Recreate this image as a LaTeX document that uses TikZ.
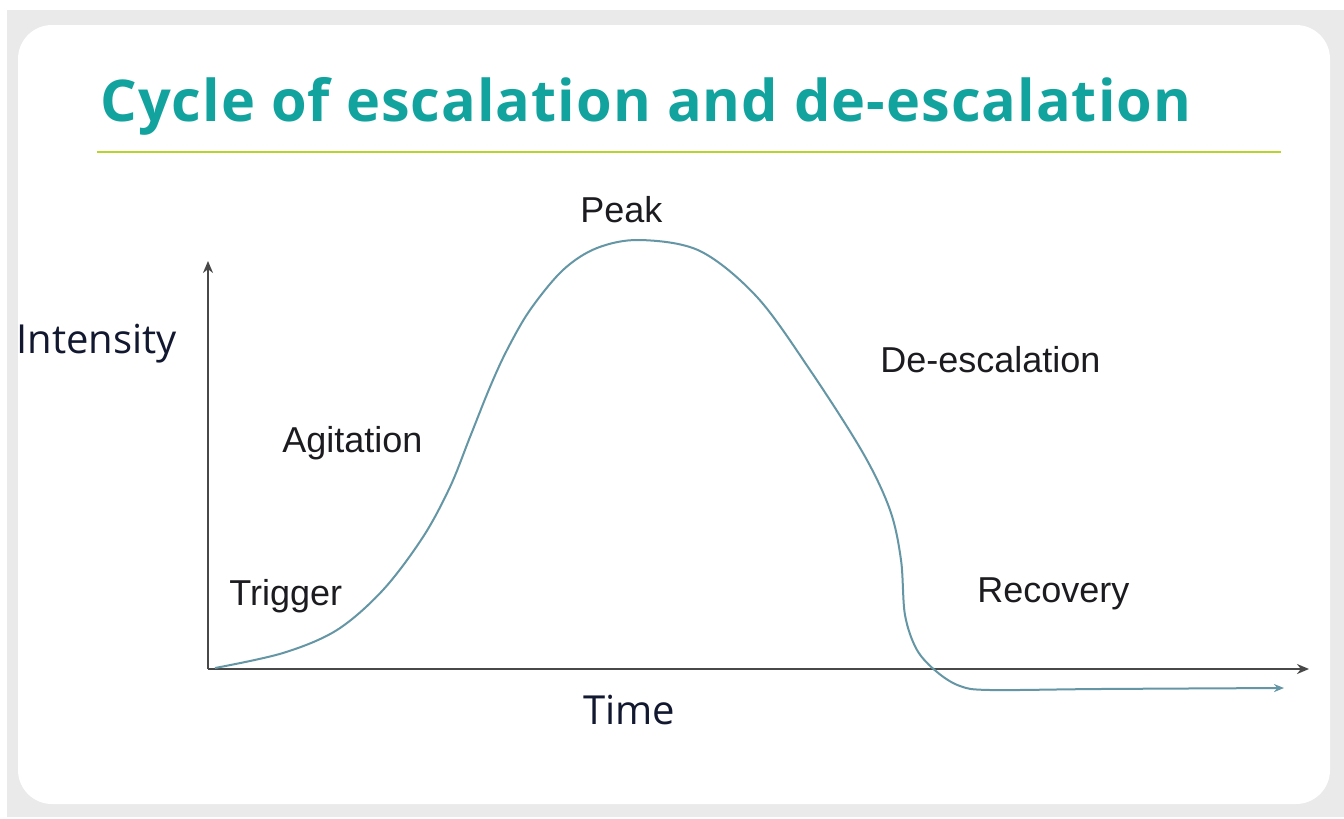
\documentclass[tikz,border=0pt]{standalone}
\usepackage{fontspec}
\setmainfont{Liberation Sans}
\newfontfamily\osfont{Open Sans}
\newfontfamily\ostitle{Open Sans}[LetterSpace=1.8]
\usetikzlibrary{arrows.meta}
\definecolor{framegray}{RGB}{234,234,234}
\definecolor{titleteal}{RGB}{18,163,158}
\definecolor{rulegreen}{RGB}{183,212,45}
\definecolor{labelink}{RGB}{28,28,32}
\definecolor{axisink}{RGB}{72,72,72}
\definecolor{curveink}{RGB}{100,150,165}
\definecolor{navyink}{RGB}{18,24,48}
\tikzset{
  lbl/.style={anchor=base west, inner sep=0pt, text=labelink, font=\fontsize{18}{21}\selectfont},
  axlbl/.style={anchor=base west, inner sep=0pt, text=navyink, font=\osfont\fontsize{20}{24}\selectfont},
  axisline/.style={draw=axisink, line width=1.3pt, -{Stealth[length=6pt,width=5pt]}},
  curveline/.style={draw=curveink, line width=1pt, -{Stealth[length=5pt,width=4pt]}}
}
\begin{document}
\begin{tikzpicture}[x=0.5pt,y=-0.5pt]
\useasboundingbox (0,0) rectangle (1344,819);
\fill[white] (0,0) rectangle (1344,819);
\fill[framegray] (7,10) rectangle (1344,817);
\fill[white, rounded corners=17pt] (18,25) rectangle (1330,804);
% title
\node[anchor=base west, inner sep=0pt, text=titleteal, font=\ostitle\bfseries\fontsize{28.8}{34}\selectfont] (title) at (100,121) {Cycle of escalation and de-escalation};
\coordinate (ruleL) at (97,152);
\coordinate (ruleR) at (1281,152);
\draw[rulegreen, line width=1.2pt] (ruleL) -- (ruleR);
% axes
\coordinate (origin) at (208,669);
\coordinate (ytop) at (208,261);
\coordinate (xend) at (1309,669);
\draw[axisline] (origin) -- (ytop);
\draw[axisline] (origin) -- (xend);
% curve
\draw[curveline] plot[smooth, tension=0.55] coordinates {
 (215,668) (283,653) (337,630) (383,590) (423,537) (450,487) (470,437)
 (490,387) (507,350) (530,310) (563,270) (597,248) (640,240) (700,251)
 (757,297) (810,370) (863,453) (890,510) (901,560)
 (905,615) (917,650) (937,672) (960,686) (990,690) (1100,689) (1284,688)};
% labels
\node[axlbl] (intensity) at (16,353) {Intensity};
\node[axlbl] (time) at (583,724) {Time};
\node[lbl] (peak) at (580,222) {Peak};
\node[lbl] (agitation) at (282,452) {Agitation};
\node[lbl] (trigger) at (229,605) {Trigger};
\node[lbl] (deesc) at (880,372) {De-escalation};
\node[lbl] (recovery) at (977,602) {Recovery};
\end{tikzpicture}
\end{document}
